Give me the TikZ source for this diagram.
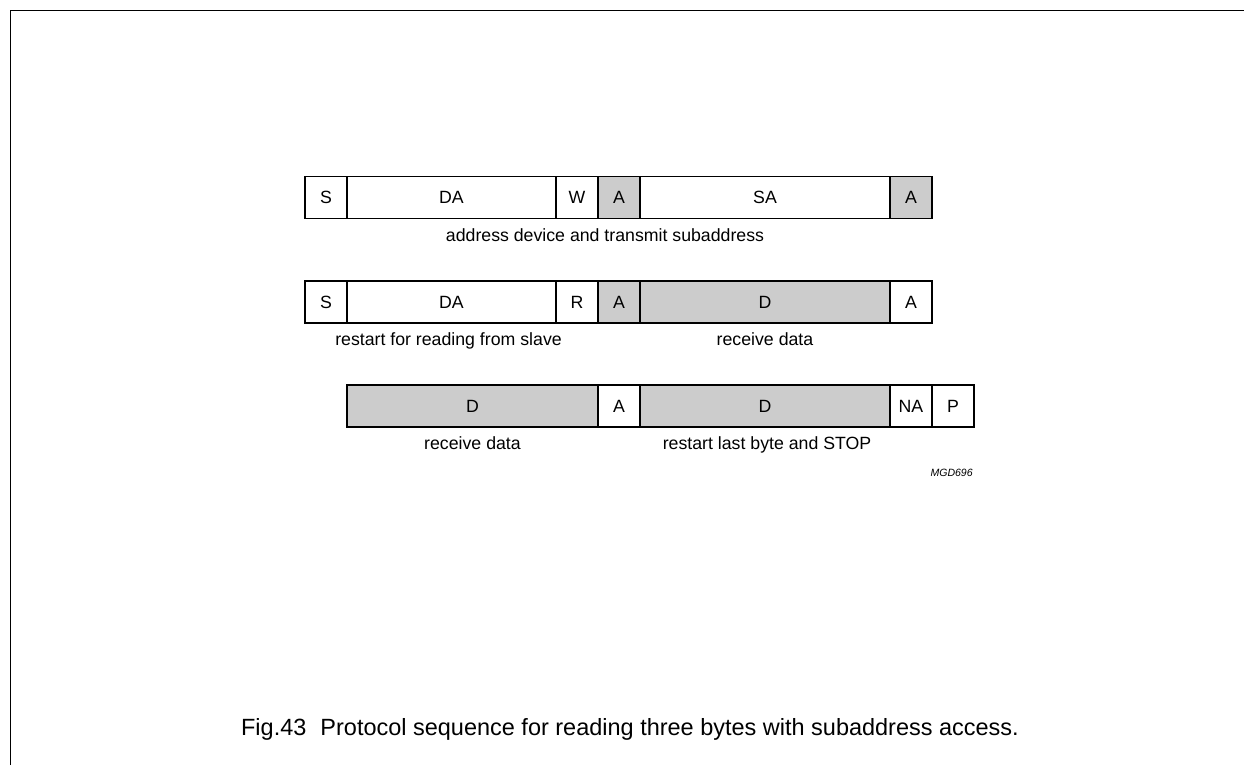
\documentclass[tikz,border=0pt]{standalone}
\usepackage{fontspec}
\setmainfont{Liberation Sans}
\usepackage{xcolor}
\usepackage{tikz}
\usetikzlibrary{positioning}
\definecolor{CellGray}{RGB}{204,204,204}
\tikzset{
  cell/.style={
    rectangle, draw=black, fill=white, line width=0.8pt,
    minimum width=1.05cm, minimum height=1.05cm, inner sep=0pt, outer sep=0pt,
    font=\fontsize{12.6pt}{14pt}\selectfont
  },
  ack/.style={cell, fill=CellGray},
  lbl/.style={anchor=base, inner sep=0pt, font=\fontsize{12.6pt}{14pt}\selectfont},
  frame/.style={draw=black, line width=1pt}
}

\begin{document}
\begin{tikzpicture}[x=0.025cm, y=-0.025cm]
  \useasboundingbox (0,0) rectangle (1244,765);

  % Frame
  \draw[frame] (10.5,765) -- (10.5,10.5) -- (1244,10.5);

  % Row 1: address device and transmit subaddress
  \node[cell] (s1) at (326,197.5) {S};
  \node[cell, minimum width=5.225cm] (da1) at (451.5,197.5) {DA};
  \node[cell] (w1) at (577,197.5) {W};
  \node[ack] (a1) at (619,197.5) {A};
  \node[cell, minimum width=6.25cm] (sa1) at (765,197.5) {SA};
  \node[ack] (a2) at (911,197.5) {A};
  \node[lbl] (l1) at (605,241.5) {address device and transmit subaddress};

  % Row 2: restart for reading
  \node[cell] (s2) at (326,302) {S};
  \node[cell, minimum width=5.225cm] (da2) at (451.5,302) {DA};
  \node[cell] (r2) at (577,302) {R};
  \node[ack] (a3) at (619,302) {A};
  \node[ack, minimum width=6.25cm] (d2) at (765,302) {D};
  \node[cell] (a4) at (911,302) {A};
  \node[lbl] (l2) at (448.5,345.5) {restart for reading from slave};
  \node[lbl] (l3) at (765,345.5) {receive data};

  % Row 3: last bytes and STOP
  \node[ack, minimum width=6.275cm] (d3) at (472.5,406) {D};
  \node[cell] (a5) at (619,406) {A};
  \node[ack, minimum width=6.25cm] (d4) at (765,406) {D};
  \node[cell] (na) at (911,406) {NA};
  \node[cell] (p) at (953,406) {P};
  \node[lbl] (l4) at (472.5,449.5) {receive data};
  \node[lbl] (l5) at (767,449.5) {restart last byte and STOP};

  \node[anchor=base east, inner sep=0pt, font=\fontsize{7.5pt}{9pt}\selectfont\itshape]
       (code) at (973,476) {MGD696};

  % Caption
  \node[anchor=base, inner sep=0pt, font=\fontsize{16.7pt}{19pt}\selectfont]
       (cap) at (630,735) {Fig.43\hspace{0.6em}Protocol sequence for reading three bytes with subaddress access.};
\end{tikzpicture}
\end{document}
